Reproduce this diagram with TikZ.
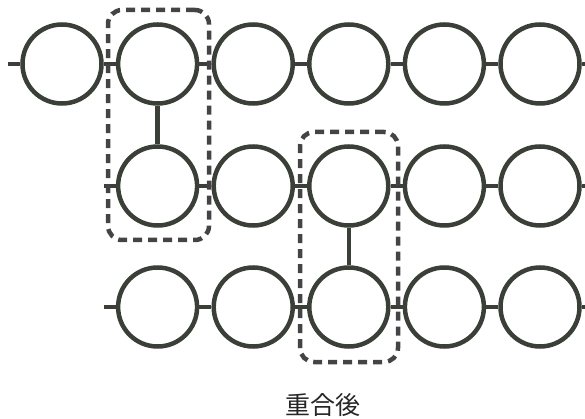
\documentclass[tikz,border=0pt]{standalone}
\usepackage{fontspec}
\newfontfamily\cjk{Noto Sans CJK JP}
\definecolor{ink}{HTML}{3A4038}
\definecolor{dash}{HTML}{444444}
\begin{document}
\begin{tikzpicture}[x=1pt,y=-1pt,
  bead/.style={circle,draw=ink,line width=4.5pt,minimum size=79pt,inner sep=0pt},
  link/.style={draw=ink,line width=4.5pt},
  groupbox/.style={draw=dash,line width=4.5pt,dash pattern=on 9pt off 6pt,rounded corners=14pt}]
\useasboundingbox (0,0) rectangle (585,419);
% row 1
\foreach \i/\x in {1/62,2/157.6,3/253.2,4/348.8,5/444.4,6/540}
  \node[bead] (a\i) at (\x,64) {};
% row 2
\foreach \i/\x in {2/157.6,3/253.2,4/348.8,5/444.4,6/540}
  \node[bead] (b\i) at (\x,186) {};
% row 3
\foreach \i/\x in {2/157.6,3/253.2,4/348.8,5/444.4,6/540}
  \node[bead] (c\i) at (\x,307) {};
% tails
\coordinate (aL) at (8,64);
\coordinate (aR) at (585,64);
\coordinate (bL) at (104,186);
\coordinate (bR) at (585,186);
\coordinate (cL) at (104,307);
\coordinate (cR) at (585,307);
\draw[link] (aL) -- (a1.west);
\draw[link] (a6.east) -- (aR);
\draw[link] (bL) -- (b2.west);
\draw[link] (b6.east) -- (bR);
\draw[link] (cL) -- (c2.west);
\draw[link] (c6.east) -- (cR);
% horizontal links
\foreach \i/\j in {1/2,2/3,3/4,4/5,5/6}
  \draw[link] (a\i.east) -- (a\j.west);
\foreach \i/\j in {2/3,3/4,4/5,5/6}
  \draw[link] (b\i.east) -- (b\j.west);
\foreach \i/\j in {2/3,3/4,4/5,5/6}
  \draw[link] (c\i.east) -- (c\j.west);
% vertical links
\draw[link] (a2.south) -- (b2.north);
\draw[link] (b4.south) -- (c4.north);
% dashed groups
\node[groupbox,minimum width=101pt,minimum height=230pt,inner sep=0pt] (g1) at (158.5,125) {};
\node[groupbox,minimum width=98pt,minimum height=230pt,inner sep=0pt] (g2) at (349,247) {};
% caption
\node[font=\cjk\fontsize{25}{25}\selectfont,text=black!85,inner sep=0pt] (cap) at (323,405) {重合後};
\end{tikzpicture}
\end{document}
